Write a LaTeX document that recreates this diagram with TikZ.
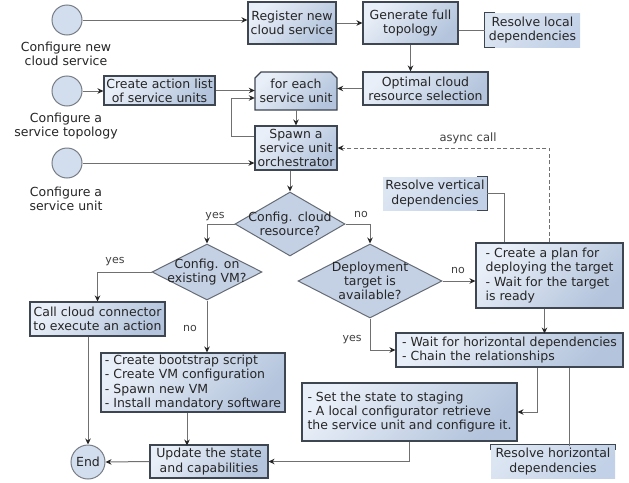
\documentclass[tikz,border=0pt]{standalone}
\usepackage{fontspec}
\setmainfont{DejaVu Sans}
\usetikzlibrary{arrows.meta,calc,shapes.geometric}
\definecolor{boxlight}{HTML}{E9EFF8}
\definecolor{boxdark}{HTML}{B3C4DC}
\definecolor{notelight}{HTML}{DCE5F2}
\definecolor{notedark}{HTML}{C2D1E7}
\definecolor{edgegray}{HTML}{707070}
\definecolor{bordergray}{HTML}{3E4652}
\definecolor{diafill}{HTML}{C4D1E4}
\definecolor{circfill}{HTML}{D2DDED}
\begin{document}
\begin{tikzpicture}[x=1pt,y=-1pt,
  every node/.style={font=\fontsize{12.5}{14.3}\selectfont, inner sep=0pt, text=black!85},
  proc/.style={draw=bordergray, line width=1.1pt, top color=boxlight, bottom color=boxdark, shading angle=45, align=center},
  lproc/.style={proc, align=left},
  note/.style={top color=notelight, bottom color=notedark, shading angle=45, align=center},
  dia/.style={diamond, draw=bordergray!80, line width=1pt, fill=diafill, inner sep=0pt},
  startc/.style={circle, draw=bordergray!70, line width=1pt, fill=circfill, minimum size=30},
  arr/.style={draw=edgegray, line width=1pt, -{Stealth[length=6pt,width=5.5pt,color=black!85]}},
  ln/.style={draw=edgegray, line width=1pt},
  brk/.style={draw=bordergray, line width=1pt},
  lbl/.style={font=\fontsize{11}{12}\selectfont, text=black!75}
]
\useasboundingbox[fill=white] (0,0) rectangle (629,482);

% start circles and their labels
\node[startc] (c1) at (67,20) {};
\node[startc] (c2) at (67,91) {};
\node[startc] (c3) at (67,163) {};
\node[align=center] (t1) at (66,54) {Configure new\\cloud service};
\node[align=center] (t2) at (66,126) {Configure a\\service topology};
\node[align=center] (t3) at (66,199) {Configure a\\service unit};

% process boxes
\node[proc, minimum width=88, minimum height=42] (reg) at (292,23) {Register new\\cloud service};
\node[proc, minimum width=95, minimum height=42] (gen) at (410.5,23) {Generate full\\topology};
\node[note, minimum width=95, minimum height=34] (resl) at (532.5,30) {Resolve local\\dependencies};
\node[proc, minimum width=125, minimum height=33] (opt) at (425.5,88.5) {Optimal cloud\\resource selection};
\node[proc, minimum width=111, minimum height=29] (cal) at (159.5,90.5) {Create action list\\of service units};

% loop limit (for each)
\path[draw=bordergray, line width=1.1pt, top color=boxlight, bottom color=boxdark, shading angle=45]
  (255,110) -- (255,78) -- (261,72) -- (331,72) -- (337,78) -- (337,110) -- cycle;
\node[align=center, minimum width=82, minimum height=38] (fe) at (296,91) {for each\\service unit};

\node[proc, minimum width=82, minimum height=44] (sp) at (296,148) {Spawn a\\service unit\\orchestrator};

% decisions
\node[dia, minimum width=110, minimum height=64] (d1) at (290,224) {};
\node[align=center] (d1t) at (290,224) {Config. cloud\\resource?};
\node[dia, minimum width=110, minimum height=56] (d2) at (207,272) {};
\node[align=center] (d2t) at (207,272) {Config. on\\existing VM?};
\node[dia, minimum width=144, minimum height=74] (d3) at (370,281) {};
\node[align=center] (d3t) at (370,281) {Deployment\\target is\\available?};

\node[note, minimum width=104, minimum height=33] (resv) at (435,193.5) {Resolve vertical\\dependencies};
\node[lproc, minimum width=147, minimum height=65] (plan) at (549.5,275.5) {- Create a plan for\\deploying the target\\- Wait for the target\\is ready};
\node[lproc, minimum width=227, minimum height=34] (wait) at (509.5,350) {- Wait for horizontal dependencies\\- Chain the relationships};
\node[lproc, minimum width=215, minimum height=58] (set) at (409.5,412) {- Set the state to staging\\- A local configurator retrieve\\the service unit and configure it.};
\node[note, minimum width=124, minimum height=33] (resh) at (553,461.5) {Resolve horizontal\\dependencies};
\node[proc, minimum width=118, minimum height=33] (upd) at (209,461.5) {Update the state\\and capabilities};
\node[proc, minimum width=135, minimum height=34] (call) at (97.5,319) {Call cloud connector\\to execute an action};
\node[lproc, minimum width=184, minimum height=59] (boot) at (193,382.5) {- Create bootstrap script\\- Create VM configuration\\- Spawn new VM\\- Install mandatory software};
\node[startc, minimum size=34] (endc) at (88,462) {End};

% note brackets
\draw[brk] ($(resl.north west)+(10,0)$) -- (resl.north west) -- (resl.south west) -- ++(10,0);
\draw[brk] ($(resv.north east)+(-10,0)$) -- (resv.north east) -- (resv.south east) -- ++(-10,0);
\draw[brk] ($(resh.north west)+(0,5)$) -- (resh.north west) -- (resh.north east) -- ++(0,5);

% connectors
\draw[arr] (c1.east) -- (c1.east -| reg.west);
\draw[arr] (reg.east) -- (reg.east -| gen.west);
\draw[ln] (resl.west -| gen.east) -- (resl.west);
\draw[arr] (gen.south) -- (gen.south |- opt.north);
\draw[arr] (opt.west) -- (opt.west -| fe.east);
\draw[arr] (c2.east) -- (c2.east -| cal.west);
\draw[arr] (cal.east) -- (cal.east -| fe.west);
\draw[arr] (fe.south) -- (sp.north);
\draw[arr] ($(sp.west)+(0,-12)$) -| ($(fe.west)+(-23,7)$) -- ($(fe.west)+(0,7)$);
\draw[arr] (c3.east) -- (c3.east -| sp.west);
\draw[arr] (d1.north |- sp.south) -- (d1.north);
\draw[arr] (d1.west) -| (d2.north);
\draw[arr] (d1.east) -| (d3.north);
\draw[arr] (d2.west) -| (call.north);
\draw[arr] (d2.south) -- (d2.south |- boot.north);
\draw[arr] (endc.north |- call.south) -- (endc.north);
\draw[arr] ($(boot.south)+(-6,0)$) -- ++(0,33);
\draw[arr] (upd.west) -- (endc.east);
\draw[arr] (d3.east) -- (d3.east -| plan.west);
\draw[arr] (d3.south) |- (wait.west);
\draw[arr] ($(plan.south)+(-5,0)$) -- ++(0,25);
\draw[arr] ($(wait.south)+(27.5,0)$) |- (set.east);
\draw[ln] ($(wait.south)+(59.5,0)$) -- ++(0,78);
\draw[arr] (set.south) |- (upd.east);
\draw[ln] (resv.east) -| ($(plan.north)+(-45.5,0)$);
\draw[arr, dashed, dash pattern=on 4pt off 2.5pt] (plan.north) |- (sp.east);

% edge labels
\node[lbl] (l1) at (215,217) {yes};
\node[lbl] (l2) at (361,214) {no};
\node[lbl] (l3) at (115,262) {yes};
\node[lbl] (l4) at (190,328) {no};
\node[lbl] (l5) at (458,270) {no};
\node[lbl] (l6) at (352,340) {yes};
\node[lbl, font=\fontsize{11.5}{13}\selectfont] (l7) at (468,138) {async call};
\end{tikzpicture}
\end{document}
